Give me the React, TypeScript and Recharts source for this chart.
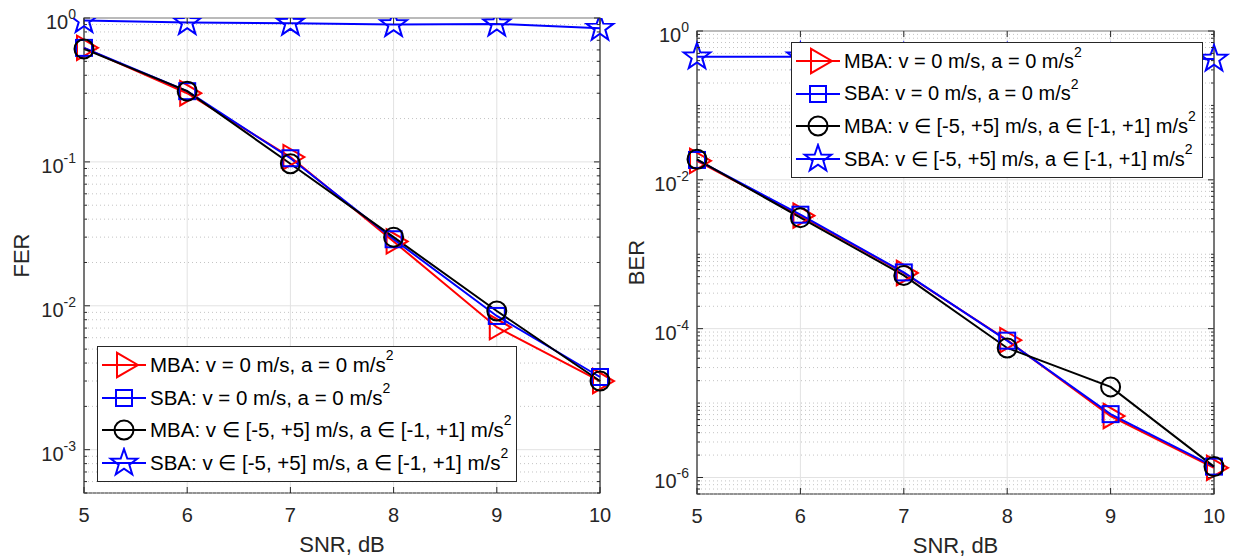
import {
  LineChart,
  Line,
  XAxis,
  YAxis,
  CartesianGrid,
  ReferenceLine,
  ReferenceArea,
  Legend
} from 'recharts'

// SNR points (dB)
const snr = [5, 6, 7, 8, 9, 10]

// frame error rate
const ferMba = [0.62, 0.30, 0.108, 0.028, 0.0071, 0.0030]
const ferSba = [0.62, 0.31, 0.106, 0.029, 0.0085, 0.0032]
const ferMbaV = [0.61, 0.31, 0.097, 0.030, 0.0092, 0.0030]
const ferSbaV = [0.96, 0.93, 0.92, 0.90, 0.91, 0.85]

// bit error rate
const berMba = [0.018, 0.0033, 5.6e-4, 7.0e-5, 6.7e-6, 1.35e-6]
const berSba = [0.0185, 0.0034, 5.7e-4, 6.9e-5, 7.1e-6, 1.4e-6]
const berMbaV = [0.0189, 0.0031, 5.2e-4, 5.5e-5, 1.65e-5, 1.4e-6]
const berSbaV = [0.45, 0.45, 0.44, 0.44, 0.43, 0.42]

// labelled y ticks
const ferTicks = [1e-3, 1e-2, 1e-1, 1]
const ferTickExp = ['-3', '-2', '-1', '0']
const berTicks = [1e-6, 1e-4, 1e-2, 1]
const berTickExp = ['-6', '-4', '-2', '0']

const FONT = '"Liberation Sans", Arial, Helvetica, sans-serif'
const TXT = '#262626'

type Shape = 'tri' | 'square' | 'circle' | 'star'

const series: { key: string; name: string; color: string; shape: Shape }[] = [
  { key: 'mba', name: 'MBA: v = 0 m/s, a = 0 m/s', color: '#ff0000', shape: 'tri' },
  { key: 'sba', name: 'SBA: v = 0 m/s, a = 0 m/s', color: '#0000ff', shape: 'square' },
  { key: 'mbaV', name: 'MBA: v \u2208 [-5, +5] m/s, a \u2208 [-1, +1] m/s', color: '#000000', shape: 'circle' },
  { key: 'sbaV', name: 'SBA: v \u2208 [-5, +5] m/s, a \u2208 [-1, +1] m/s', color: '#0000ff', shape: 'star' }
]

const ferData = snr.map((s, i) => ({ snr: s, mba: ferMba[i], sba: ferSba[i], mbaV: ferMbaV[i], sbaV: ferSbaV[i] }))
const berData = snr.map((s, i) => ({ snr: s, mba: berMba[i], sba: berSba[i], mbaV: berMbaV[i], sbaV: berSbaV[i] }))

// every 1..9 x 10^k inside the range, for the dotted minor grid
function minorGrid(lo: number, hi: number, major: number[]) {
  const out: number[] = []
  for (let k = Math.floor(Math.log10(lo)); k <= Math.ceil(Math.log10(hi)); k++) {
    for (let m = 1; m <= 9; m++) {
      const v = parseFloat((m * Math.pow(10, k)).toPrecision(3))
      if (v >= lo && v <= hi && !major.includes(v)) out.push(v)
    }
  }
  return out
}

function Marker({ shape, cx, cy, color }: { shape: Shape; cx: number; cy: number; color: string }) {
  const sw = 2
  if (shape === 'tri') {
    const r = 14
    const pts = `${cx + r},${cy} ${cx - r * 0.5},${cy - r * 0.87} ${cx - r * 0.5},${cy + r * 0.87}`
    return <polygon points={pts} fill="none" stroke={color} strokeWidth={sw} />
  }
  if (shape === 'square') {
    return <rect x={cx - 8} y={cy - 8} width={16} height={16} fill="none" stroke={color} strokeWidth={sw} />
  }
  if (shape === 'circle') {
    return <circle cx={cx} cy={cy} r={9.5} fill="none" stroke={color} strokeWidth={sw} />
  }
  const R = 14
  const r = R * 0.4
  const pts: string[] = []
  for (let i = 0; i < 10; i++) {
    const a = -Math.PI / 2 + (i * Math.PI) / 5
    const rr = i % 2 === 0 ? R : r
    pts.push(`${cx + rr * Math.cos(a)},${cy + rr * Math.sin(a)}`)
  }
  return <polygon points={pts.join(' ')} fill="none" stroke={color} strokeWidth={sw} />
}

function LegendBox({ fontSize }: { fontSize: number }) {
  return (
    <div
      style={{
        border: '1px solid #262626',
        background: '#fff',
        boxSizing: 'border-box',
        padding: '2px 0',
        fontFamily: FONT,
        fontSize,
        color: '#000'
      }}
    >
      {series.map((s) => (
        <div key={s.key} style={{ display: 'flex', alignItems: 'center', height: 32.5 }}>
          <svg width={52} height={32} style={{ flex: 'none' }}>
            <line x1={4} y1={16} x2={48} y2={16} stroke={s.color} strokeWidth={2} />
            <Marker shape={s.shape} cx={26} cy={16} color={s.color} />
          </svg>
          <span style={{ whiteSpace: 'nowrap' }}>
            {s.name}
            <sup style={{ fontSize: 14, verticalAlign: 'top', position: 'relative', top: -6 }}>2</sup>
          </span>
        </div>
      ))}
    </div>
  )
}

interface Geo {
  left: number
  right: number
  top: number
  bottom: number
}

function makeYTick(g: Geo, major: number[], exps: string[]) {
  return (props: any) => {
    const { y, payload } = props
    const idx = major.indexOf(payload.value)
    const len = idx >= 0 ? 6 : 3
    return (
      <g>
        <line x1={g.left} y1={y} x2={g.left + len} y2={y} stroke={TXT} strokeWidth={1} />
        <line x1={g.right} y1={y} x2={g.right - len} y2={y} stroke={TXT} strokeWidth={1} />
        {idx >= 0 && (
          <text x={g.left - 8} y={y + 11} textAnchor="end" fill={TXT} fontFamily={FONT} fontSize={20}>
            10
            <tspan fontSize={14} dy={-10}>{exps[idx]}</tspan>
          </text>
        )}
      </g>
    )
  }
}

function makeXTick(g: Geo) {
  return (props: any) => {
    const { x, payload } = props
    return (
      <g>
        <line x1={x} y1={g.bottom} x2={x} y2={g.bottom - 6} stroke={TXT} strokeWidth={1} />
        <line x1={x} y1={g.top} x2={x} y2={g.top + 6} stroke={TXT} strokeWidth={1} />
        <text x={x} y={g.bottom + 29} textAnchor="middle" fill={TXT} fontFamily={FONT} fontSize={20}>
          {payload.value}
        </text>
      </g>
    )
  }
}

interface PanelProps {
  data: Record<string, number>[]
  width: number
  height: number
  margin: { top: number; right: number; bottom: number; left: number }
  yDomain: [number, number]
  major: number[]
  exps: string[]
  yLabel: string
  yLabelX: number
  legendPos: { left: number; top: number; width: number }
  legendFont: number
}

function Panel({ data, width, height, margin, yDomain, major, exps, yLabel, yLabelX, legendPos, legendFont }: PanelProps) {
  const yW = 60
  const xH = 40
  const g: Geo = {
    left: margin.left + yW,
    right: width - margin.right,
    top: margin.top,
    bottom: height - margin.bottom - xH
  }
  const minors = minorGrid(yDomain[0], yDomain[1], major)
  const allTicks = [...minors, ...major].sort((a, b) => a - b)
  const midY = (g.top + g.bottom) / 2
  const midX = (g.left + g.right) / 2
  return (
    <LineChart width={width} height={height} data={data} margin={margin}>
      <CartesianGrid horizontal={false} stroke="#e2e2e2" strokeWidth={1} />
      {minors.map((v) => (
        <ReferenceLine key={'m' + v} y={v} stroke="#c4c4c4" strokeDasharray="1 3" strokeWidth={1} />
      ))}
      {major.map((v) => (
        <ReferenceLine key={'M' + v} y={v} stroke="#e2e2e2" strokeWidth={1} />
      ))}
      <XAxis
        dataKey="snr"
        type="number"
        domain={[5, 10]}
        ticks={snr}
        interval={0}
        height={xH}
        axisLine={false}
        tickLine={false}
        tick={makeXTick(g)}
        label={{
          content: () => (
            <text x={midX} y={g.bottom + 59} textAnchor="middle" fill={TXT} fontFamily={FONT} fontSize={22}>
              SNR, dB
            </text>
          )
        }}
      />
      <YAxis
        type="number"
        scale="log"
        domain={yDomain}
        allowDataOverflow
        ticks={allTicks}
        interval={0}
        width={yW}
        axisLine={false}
        tickLine={false}
        tick={makeYTick(g, major, exps)}
        label={{
          content: () => (
            <text
              x={yLabelX}
              y={midY}
              textAnchor="middle"
              fill={TXT}
              fontFamily={FONT}
              fontSize={22}
              transform={`rotate(-90 ${yLabelX} ${midY})`}
            >
              {yLabel}
            </text>
          )
        }}
      />
      <ReferenceArea x1={5} x2={10} y1={yDomain[0]} y2={yDomain[1]} fill="none" stroke={TXT} strokeWidth={1.2} />
      {series.map((s) => (
        <Line
          key={s.key}
          dataKey={s.key}
          stroke={s.color}
          strokeWidth={2}
          type="linear"
          isAnimationActive={false}
          dot={(p: any) => <Marker key={s.key + p.index} shape={s.shape} cx={p.cx} cy={p.cy} color={s.color} />}
        />
      ))}
      <Legend
        layout="vertical"
        align="center"
        verticalAlign="middle"
        wrapperStyle={{ position: 'absolute', left: legendPos.left, top: legendPos.top, width: legendPos.width }}
        content={() => <LegendBox fontSize={legendFont} />}
      />
    </LineChart>
  )
}

export default function App() {
  return (
    <div style={{ position: 'absolute', left: 0, top: 0, width: 1233, height: 559, background: '#fff' }}>
      <div style={{ position: 'absolute', left: 0, top: 0 }}>
        <Panel
          data={ferData}
          width={620}
          height={559}
          margin={{ top: 18, right: 20, bottom: 26, left: 24 }}
          yDomain={[5e-4, 1]}
          major={ferTicks}
          exps={ferTickExp}
          yLabel="FER"
          yLabelX={29}
          legendPos={{ left: 97, top: 346, width: 420 }}
          legendFont={20.5}
        />
      </div>
      <div style={{ position: 'absolute', left: 620, top: 0 }}>
        <Panel
          data={berData}
          width={613}
          height={559}
          margin={{ top: 31, right: 19, bottom: 25, left: 17 }}
          yDomain={[6e-7, 1]}
          major={berTicks}
          exps={berTickExp}
          yLabel="BER"
          yLabelX={24}
          legendPos={{ left: 171, top: 42, width: 412 }}
          legendFont={20}
        />
      </div>
    </div>
  )
}
